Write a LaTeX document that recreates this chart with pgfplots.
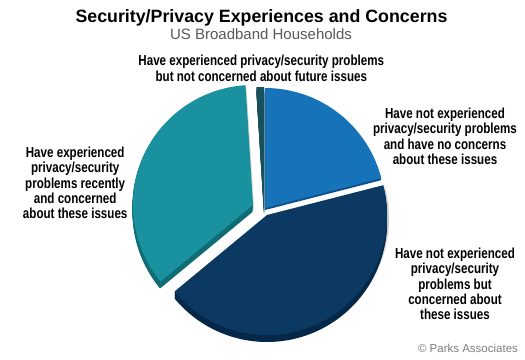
\documentclass[border=0pt]{standalone}
\usepackage{pgfplots}
\pgfplotsset{compat=1.18}
\usepackage{fontspec}
\setmainfont{Liberation Sans}
\newfontfamily\condfont{Liberation Sans}[FakeStretch=0.8]
\definecolor{cblue}{RGB}{22,115,186}
\definecolor{cblueD}{RGB}{14,80,140}
\definecolor{cnavy}{RGB}{11,57,97}
\definecolor{cnavyD}{RGB}{6,40,72}
\definecolor{cteal}{RGB}{25,145,158}
\definecolor{ctealD}{RGB}{15,108,117}
\definecolor{csliver}{RGB}{24,80,92}
\definecolor{subgray}{RGB}{88,88,88}
\definecolor{copygray}{RGB}{125,125,125}
% shares (percent)
\def\vBlue{21}
\def\vNavy{43}
\def\vTeal{35}
\def\vSliver{1}
\pgfmathsetmacro{\aA}{90}
\pgfmathsetmacro{\aB}{90-3.6*\vBlue}
\pgfmathsetmacro{\aC}{\aB-3.6*\vNavy}
\pgfmathsetmacro{\aD}{\aC-3.6*\vTeal}
\pgfmathsetmacro{\aE}{\aD-3.6*\vSliver}
% #1 cx, #2 cy, #3 low angle, #4 high angle, #5 options
\newcommand{\pieslice}[5]{%
  \addplot[#5, domain=#3:#4, samples=90, variable=\t]
    ({#1+120*cos(\t)},{#2-120*sin(\t)}) -- (axis cs:#1,#2) -- cycle;}
\newcommand{\lab}[3]{\node[anchor=base, inner sep=0pt,
  font=\condfont\bfseries\fontsize{14.5bp}{15.4bp}\selectfont] at (axis cs:#1,#2) {#3};}
\begin{document}
\begin{tikzpicture}
\begin{axis}[
  width=525bp, height=360bp, scale only axis,
  xmin=0, xmax=525, ymin=0, ymax=360, y dir=reverse,
  hide axis, clip=false]
\addplot[draw=none] coordinates {(0,0) (525,360)};
% soft shadow
\pgfplotsinvokeforeach{8,10,12,14}{
  \pieslice{269}{#1+207}{\aC}{\aB}{fill=black, fill opacity=0.06, draw=none}
  \pieslice{254}{#1+197}{\aD}{\aC}{fill=black, fill opacity=0.05, draw=none}
}
% extrusions
\pgfplotsinvokeforeach{1,...,7}{
  \pieslice{264}{207+#1}{\aE}{\aD}{fill=csliver, draw=none}
  \pieslice{267}{215+#1}{\aC}{\aB}{fill=cnavyD, draw=none}
  \pieslice{252.5}{205+#1}{\aD}{\aC}{fill=ctealD, draw=none}
}
\pgfplotsinvokeforeach{1,2}{
  \pieslice{265}{208+#1}{\aB}{\aA}{fill=cblueD, draw=none}
}
% top faces
\pieslice{264}{207}{\aE}{\aD}{fill=csliver, draw=none}
\pieslice{265}{208}{\aB}{\aA}{fill=cblue, draw=none}
\pieslice{267}{215}{\aC}{\aB}{fill=cnavy, draw=none}
\pieslice{253}{205}{\aD}{\aC}{fill=cteal, draw=none}
% titles
\node[anchor=base, inner sep=0pt, font=\bfseries\fontsize{17.8bp}{20bp}\selectfont]
  at (axis cs:261.5,22.7) {Security/Privacy Experiences and Concerns};
\node[anchor=base, inner sep=0pt, text=subgray, font=\fontsize{15bp}{17bp}\selectfont]
  at (axis cs:261,39) {US Broadband Households};
% labels
\lab{261.3}{65.8}{Have experienced privacy/security problems}
\lab{261.3}{81.2}{but not concerned about future issues}
\lab{445}{118.3}{Have not experienced}
\lab{445}{133.6}{privacy/security problems}
\lab{445}{149}{and have no concerns}
\lab{445}{164.4}{about these issues}
\lab{75.2}{157.3}{Have experienced}
\lab{75.2}{172.6}{privacy/security}
\lab{75.2}{188}{problems recently}
\lab{75.2}{203.3}{and concerned}
\lab{75.2}{218.7}{about these issues}
\lab{455}{258.3}{Have not experienced}
\lab{455}{273.6}{privacy/security}
\lab{455}{289}{problems but}
\lab{455}{304.4}{concerned about}
\lab{455}{319.8}{these issues}
\node[anchor=base, inner sep=0pt, text=copygray, font=\fontsize{11.5bp}{13bp}\selectfont]
  at (axis cs:468,352) {\textcopyright{} Parks Associates};
\end{axis}
\end{tikzpicture}
\end{document}
